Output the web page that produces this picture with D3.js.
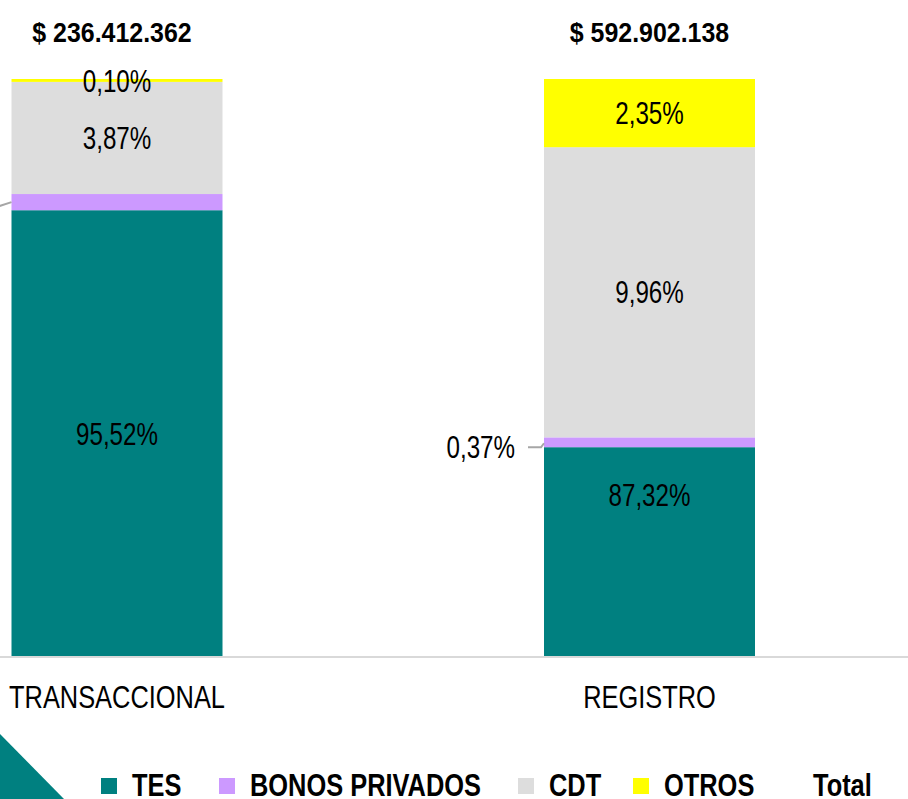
<!DOCTYPE html>
<html>
<head>
  <meta charset="utf-8">
  <title>Composición por tipo de título</title>
  <style type="text/css">
  body { margin: 0; background: #ffffff; }
  text { font-family: "Liberation Sans", Arial, sans-serif; fill: #000000; }
  </style>
</head>
<body>
  <svg width="908" height="799"></svg>
  <script src="https://d3js.org/d3.v7.min.js"></script>
  <script>
  // 1. datos (alto visual de cada segmento y su etiqueta)
  var series = ["TES", "BONOS PRIVADOS", "CDT", "OTROS"];
  var colors = {"TES":"#008080", "BONOS PRIVADOS":"#cc99ff", "CDT":"#dddddd", "OTROS":"#ffff00"};

  var tableData = [
    {"cat":"TRANSACCIONAL", "TES":77.3, "BONOS PRIVADOS":2.8, "CDT":19.4, "OTROS":0.5, "total":"$ 236.412.362", "dx":-5},
    {"cat":"REGISTRO",      "TES":36.3, "BONOS PRIVADOS":1.7, "CDT":50.2, "OTROS":11.8, "total":"$ 592.902.138", "dx":0}
  ];

  var labelsData = {
    "TRANSACCIONAL": {"TES":"95,52%", "BONOS PRIVADOS":"0,51%", "CDT":"3,87%", "OTROS":"0,10%"},
    "REGISTRO":      {"TES":"87,32%", "BONOS PRIVADOS":"0,37%", "CDT":"9,96%", "OTROS":"2,35%"}
  };
  // posición manual de etiqueta (en unidades del eje)
  var labelAt = {"REGISTRO|TES": 28.0};

  var legendData = [
    {"name":"TES", "x":101},
    {"name":"BONOS PRIVADOS", "x":219},
    {"name":"CDT", "x":518},
    {"name":"OTROS", "x":633},
    {"name":"Total", "x":782, "noMarker":true}
  ];

  // 2. escalas
  var svg = d3.select("svg");
  var x = d3.scalePoint().domain(tableData.map(function(d){ return d.cat; })).range([117, 649.5]);
  var y = d3.scaleLinear().domain([0, 100]).range([657, 79]);
  var barW = 211;

  var stacked = d3.stack().keys(series)(tableData);

  function addText(g, txt, px, py, size, sx, anchor, bold) {
    return g.append("text")
      .attr("transform", "translate(" + px + "," + py + ") scale(" + sx + ",1)")
      .attr("text-anchor", anchor)
      .style("font-size", size + "px")
      .style("font-weight", bold ? "bold" : "normal")
      .text(txt);
  }

  // decoración esquina
  svg.append("path")
    .attr("d", "M0,734 L64,799 L0,799 Z")
    .attr("fill", "#008080");

  // 3. barras apiladas
  var layer = svg.selectAll("g.layer")
    .data(stacked)
    .enter()
    .append("g")
    .attr("class", "layer")
    .attr("fill", function(d) { return colors[d.key]; });

  layer.selectAll("rect")
    .data(function(d) { return d; })
    .enter()
    .append("rect")
    .attr("x", function(d) { return x(d.data.cat) - barW / 2; })
    .attr("y", function(d) { return y(d[1]); })
    .attr("width", barW)
    .attr("height", function(d) { return y(d[0]) - y(d[1]); });

  // eje
  svg.append("line")
    .attr("x1", 0).attr("x2", 908)
    .attr("y1", y(0)).attr("y2", y(0))
    .attr("stroke", "#d9d9d9")
    .attr("stroke-width", 2);

  // 4. etiquetas
  var lab = svg.append("g");
  stacked.forEach(function(s) {
    s.forEach(function(d) {
      var cat = d.data.cat;
      var txt = labelsData[cat][s.key];
      var mid = (d[0] + d[1]) / 2;
      if (labelAt[cat + "|" + s.key] !== undefined) mid = labelAt[cat + "|" + s.key];
      if (s.key == "BONOS PRIVADOS") {
        // etiqueta exterior con línea guía
        var bx = x(cat) - barW / 2;
        var by = y(mid);
        if (bx > 100) {
          lab.append("polyline")
            .attr("points", (bx - 16) + "," + (by + 5) + " " + (bx - 3) + "," + (by + 5) + " " + bx + "," + (by + 1))
            .attr("fill", "none")
            .attr("stroke", "#a6a6a6")
            .attr("stroke-width", 2);
          addText(lab, txt, bx - 29, by + 16, 31, 0.78, "end", false);
        } else {
          // la etiqueta queda fuera del cuadro
          lab.append("line")
            .attr("x1", bx - 40).attr("y1", by + 13)
            .attr("x2", bx).attr("y2", by)
            .attr("stroke", "#a6a6a6").attr("stroke-width", 2);
        }
      } else {
        addText(lab, txt, x(cat), y(mid) + 11.2, 31, 0.78, "middle", false);
      }
    });
  });

  // totales y categorías
  tableData.forEach(function(d) {
    addText(lab, d.total, x(d.cat) + d.dx, 42, 28, 0.89, "middle", true);
    addText(lab, d.cat, x(d.cat), 708, 31, 0.82, "middle", false);
  });

  // 5. leyenda
  var legend = svg.append("g");
  legendData.forEach(function(d) {
    if (!d.noMarker) {
      legend.append("rect")
        .attr("x", d.x).attr("y", 778)
        .attr("width", 16).attr("height", 16)
        .attr("fill", colors[d.name]);
    }
    addText(legend, d.name, d.x + 31, 796, 31, 0.82, "start", true);
  });
  </script>
</body>
</html>
